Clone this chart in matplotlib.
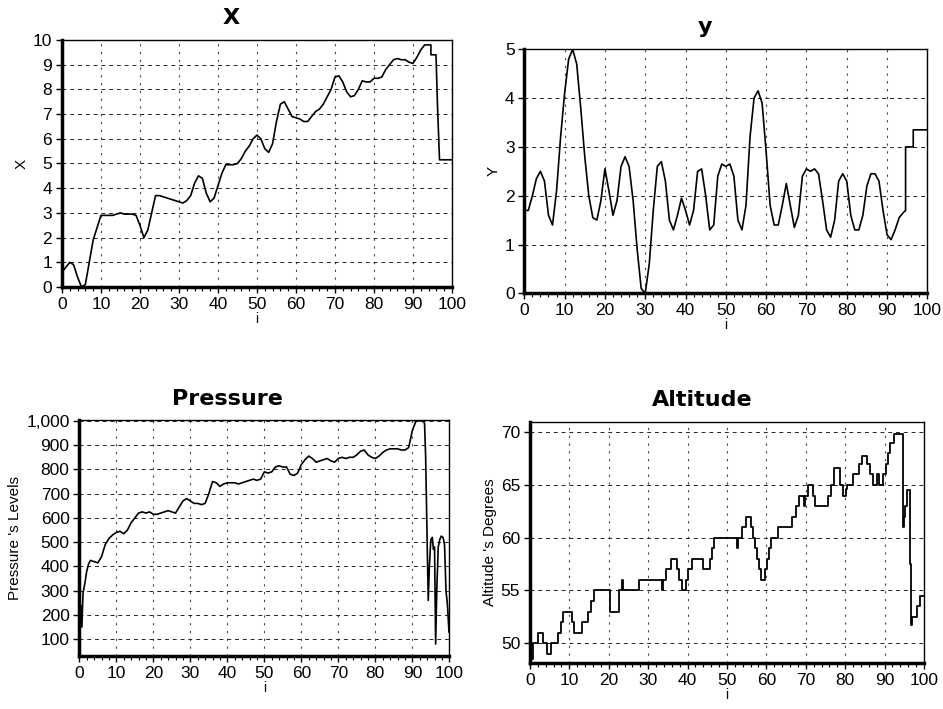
import matplotlib
matplotlib.use('Agg')
import matplotlib.pyplot as plt
from matplotlib.ticker import MultipleLocator, FuncFormatter

plt.rcParams['font.family'] = ['Liberation Sans', 'DejaVu Sans']

# X position vs sample index
x_i = [0, 1, 2, 3, 4, 5, 6, 7, 8, 9, 10, 11, 12, 13, 14, 15, 16, 17, 18, 19,
       20, 21, 22, 23, 24, 25, 26, 27, 28, 29, 30, 31, 32, 33, 34, 35, 36, 37, 38, 39,
       40, 41, 42, 43, 44, 45, 46, 47, 48, 49, 50, 51, 52, 53, 54, 55, 56, 57, 58, 59,
       60, 61, 62, 63, 64, 65, 66, 67, 68, 69, 70, 71, 72, 73, 74, 75, 76, 77, 78, 79,
       80, 81, 82, 83, 84, 85, 86, 87, 88, 89, 90, 91, 92, 93, 94, 94.6, 94.6, 95.9,
       96.3, 96.8, 100]
x_val = [0.6, 0.8, 1.0, 0.9, 0.4, 0.0, 0.1, 1.0, 1.9, 2.4, 2.9, 2.9, 2.9, 2.9, 2.95, 3.0, 2.95, 2.95, 2.95, 2.9,
         2.5, 2.0, 2.3, 3.0, 3.7, 3.7, 3.65, 3.6, 3.55, 3.5, 3.45, 3.4, 3.5, 3.7, 4.2, 4.5, 4.4, 3.8, 3.45, 3.6,
         4.1, 4.6, 4.95, 4.95, 4.95, 5.0, 5.2, 5.5, 5.7, 6.0, 6.15, 6.0, 5.6, 5.45, 5.8, 6.7, 7.4, 7.5, 7.2, 6.9,
         6.85, 6.8, 6.7, 6.7, 6.9, 7.1, 7.2, 7.4, 7.7, 8.0, 8.5, 8.55, 8.3, 7.9, 7.7, 7.75, 8.0, 8.35, 8.3, 8.3,
         8.45, 8.45, 8.5, 8.8, 9.0, 9.2, 9.25, 9.2, 9.2, 9.1, 9.05, 9.3, 9.6, 9.8, 9.8, 9.8, 9.4, 9.4,
         7.3, 5.15, 5.15]

# Y position vs sample index
y_i = [0, 1, 2, 3, 4, 5, 6, 7, 8, 9, 10, 11, 12, 13, 14, 15, 16, 17, 18, 19,
       20, 21, 22, 23, 24, 25, 26, 27, 28, 29, 30, 31, 32, 33, 34, 35, 36, 37, 38, 39,
       40, 41, 42, 43, 44, 45, 46, 47, 48, 49, 50, 51, 52, 53, 54, 55, 56, 57, 58, 59,
       60, 61, 62, 63, 64, 65, 66, 67, 68, 69, 70, 71, 72, 73, 74, 75, 76, 77, 78, 79,
       80, 81, 82, 83, 84, 85, 86, 87, 88, 89, 90, 91, 92, 93, 94, 94.6, 94.6, 96.5,
       96.5, 100]
y_val = [1.7, 1.7, 2.0, 2.35, 2.5, 2.3, 1.6, 1.4, 2.1, 3.2, 4.1, 4.8, 5.0, 4.7, 3.8, 2.8, 2.0, 1.55, 1.5, 1.9,
         2.55, 2.1, 1.6, 1.9, 2.6, 2.8, 2.6, 1.9, 0.9, 0.1, 0.0, 0.6, 1.7, 2.6, 2.7, 2.3, 1.5, 1.3, 1.6, 1.95,
         1.7, 1.4, 1.7, 2.5, 2.55, 2.0, 1.3, 1.4, 2.4, 2.65, 2.6, 2.65, 2.4, 1.5, 1.3, 1.8, 3.2, 4.0, 4.15, 3.9,
         2.9, 1.8, 1.4, 1.4, 1.8, 2.25, 1.8, 1.35, 1.6, 2.4, 2.55, 2.5, 2.55, 2.45, 1.9, 1.3, 1.15, 1.5, 2.3, 2.45,
         2.3, 1.6, 1.3, 1.3, 1.6, 2.2, 2.45, 2.45, 2.3, 1.7, 1.2, 1.1, 1.3, 1.55, 1.65, 1.7, 3.0, 3.0,
         3.35, 3.35]

# Pressure levels vs sample index
p_i = [0, 0.4, 0.7, 1.0, 1.5, 2, 2.5, 3, 4, 5, 6, 7, 8, 9, 10, 11, 12, 13, 14, 15, 16, 17, 18, 19,
       20, 21, 22, 23, 24, 25, 26, 27, 28, 29, 30, 31, 32, 33, 34, 35, 36, 37, 38, 39,
       40, 41, 42, 43, 44, 45, 46, 47, 48, 49, 50, 51, 52, 53, 54, 55, 56, 57, 58, 59,
       60, 61, 62, 63, 64, 65, 66, 67, 68, 69, 70, 71, 72, 73, 74, 75, 76, 77, 78, 79,
       80, 81, 82, 83, 84, 85, 86, 87, 88, 89, 90, 91, 92, 92.8, 93.3, 93.6, 94.1, 94.3,
       94.6, 95.0, 95.4, 95.7, 96.0, 96.3, 96.6, 97.0, 97.4, 97.8, 98.3, 98.7, 99.1, 99.5, 99.9]
p_val = [45, 240, 150, 290, 330, 380, 410, 425, 420, 415, 440, 490, 515, 530, 540, 545, 535, 550, 580, 600, 620, 625, 620, 625,
         615, 615, 620, 625, 630, 625, 620, 645, 670, 680, 670, 660, 660, 655, 660, 700, 750, 745, 730, 740,
         745, 745, 745, 740, 745, 750, 755, 760, 755, 760, 790, 785, 790, 810, 815, 810, 810, 780, 775, 785,
         820, 840, 855, 845, 830, 835, 840, 845, 835, 830, 845, 850, 845, 850, 850, 860, 875, 880, 860, 850,
         845, 855, 870, 880, 885, 885, 885, 880, 880, 890, 960, 1000, 1000, 1000, 990, 850, 420, 260,
         400, 510, 520, 470, 480, 80, 300, 480, 510, 525, 520, 490, 300, 240, 130]

# Altitude degrees (stepped) vs sample index
a_i = [0, 0.8, 2.1, 3.4, 4.2, 5.4, 7.2, 7.8, 8.5, 10.6, 11.3, 13.2, 14.8, 15.6, 16.3, 20.4, 22.6, 23.4, 23.7,
       27.8, 33.4, 33.7, 34.6, 35.8, 37.2, 37.8, 38.5, 39.6, 40.2, 41.2, 44.0, 45.6, 46.2, 46.8, 52.5, 52.8,
       53.8, 54.8, 56.0, 56.6, 57.1, 57.6, 58.1, 58.6, 59.6, 60.1, 60.7, 61.3, 63.0, 66.5, 67.5, 68.3, 69.5,
       69.8, 70.6, 71.8, 72.4, 75.6, 76.3, 77.2, 78.6, 79.4, 80.2, 80.5, 82.0, 83.6, 84.4, 85.5, 86.2, 87.0,
       88.0, 88.6, 89.6, 90.4, 90.9, 91.5, 92.3, 94.6, 94.9, 95.2, 95.6, 96.5, 96.7, 96.9, 98.2, 99.1, 100]
a_val = [48.5, 50, 51, 50, 49, 50, 51, 52, 53, 52, 51, 52, 53, 54, 55, 53, 55, 56, 55,
         56, 55, 56, 57, 58, 57, 56, 55, 56, 57, 58, 57, 58, 59, 60, 59, 60,
         61, 62, 61, 60, 59, 58, 57, 56, 57, 58, 59, 60, 61, 62, 63, 64, 63,
         64, 65, 64, 63, 64, 65, 66.6, 65, 64, 64.6, 65, 66, 67, 67.7, 67, 66, 65,
         66, 65, 66, 67, 68, 69, 69.8, 61, 62, 63, 64.5, 57.5, 51.7, 52.5, 53.5, 54.5, 54.5]

fig = plt.figure(figsize=(9.43, 7.09), dpi=100)

panels = [
    # rect, xs, ys, ylim, major, title, title_x, ylabel, steps
    ([0.0657, 0.5952, 0.4136, 0.3484], x_i, x_val, (0, 10), 1, 'X', 0.433, 'X', False),
    ([0.556, 0.5863, 0.4274, 0.3441], y_i, y_val, (0, 5), 1, 'y', 0.449, 'Y', False),
    ([0.0841, 0.0748, 0.3924, 0.3329], p_i, p_val, (31, 1004), 100, 'Pressure', 0.40, "Pressure 's Levels", False),
    ([0.562, 0.0645, 0.4178, 0.3408], a_i, a_val, (48.1, 71), 5, 'Altitude', 0.437, "Altitude 's Degrees", True),
]

for rect, xs, ys, ylim, major, title, tx, ylabel, steps in panels:
    ax = fig.add_axes(rect)
    if steps:
        ax.plot(xs, ys, color='black', linewidth=1.3, drawstyle='steps-post')
    else:
        ax.plot(xs, ys, color='black', linewidth=1.2)
    ax.set_xlim(0, 100)
    ax.set_ylim(*ylim)
    ax.xaxis.set_major_locator(MultipleLocator(10))
    ax.xaxis.set_minor_locator(MultipleLocator(2))
    ax.yaxis.set_major_locator(MultipleLocator(major))
    if title == 'Pressure':
        ax.yaxis.set_major_formatter(FuncFormatter(lambda v, p: f'{int(v):,}'))
    # horizontal grid dashed, vertical grid lighter dotted
    ax.yaxis.grid(True, color='#222222', linestyle=(0, (4, 4)), linewidth=0.7)
    ax.xaxis.grid(True, color='#444444', linestyle=(0, (2, 5)), linewidth=0.8)
    ax.tick_params(axis='both', which='major', labelsize=12.5, length=4, width=1, direction='out', pad=3)
    ax.tick_params(axis='x', which='minor', length=3, width=0.8, direction='out')
    for s in ['left', 'bottom']:
        ax.spines[s].set_linewidth(2.5)
    for s in ['top', 'right']:
        ax.spines[s].set_linewidth(1.0)
    ax.set_xlabel('i', fontsize=10, labelpad=0)
    ax.set_ylabel(ylabel, fontsize=11, labelpad=3)
    ax.text(tx, 1.09, title, transform=ax.transAxes, ha='center', va='center',
            fontsize=16, fontweight='bold', family='DejaVu Sans')

plt.savefig('out.png', dpi=100)
